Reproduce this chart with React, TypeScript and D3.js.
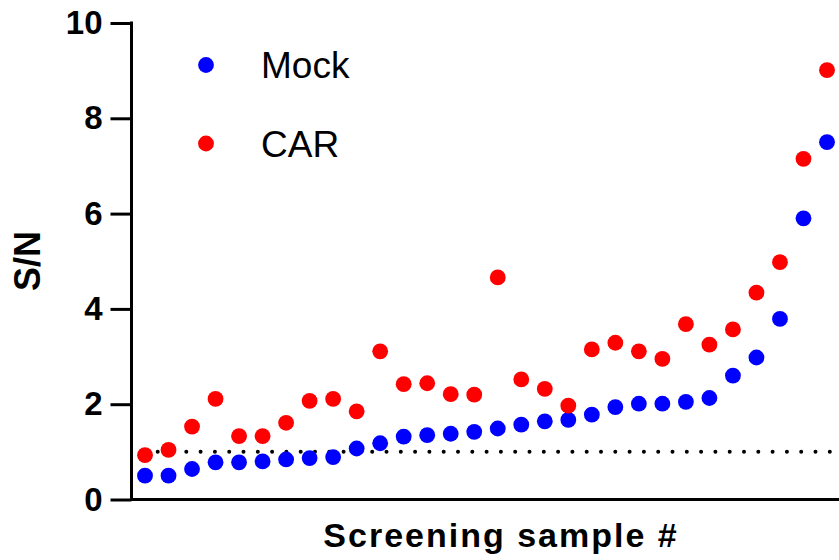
import React, { useRef, useEffect } from "react";
import { select, scaleLinear, axisLeft } from "d3";

// sample index 1..30, sorted by mock value
const samples = Array.from({ length: 30 }, (_, i) => i + 1);

const mockValues = [
  0.5, 0.5, 0.64, 0.78, 0.78, 0.8, 0.84, 0.87, 0.89, 1.07, 1.18, 1.32, 1.35,
  1.38, 1.42, 1.49, 1.57, 1.64, 1.67, 1.78, 1.94, 2.01, 2.01, 2.05, 2.13, 2.6,
  2.98, 3.79, 5.9, 7.5,
];

const carValues = [
  0.93, 1.04, 1.53, 2.11, 1.33, 1.33, 1.61, 2.07, 2.11, 1.85, 3.11, 2.42, 2.44,
  2.21, 2.2, 4.66, 2.52, 2.32, 1.97, 3.15, 3.29, 3.11, 2.95, 3.68, 3.25, 3.57,
  4.34, 4.98, 7.15, 9.01,
];

const yTicks = [0, 2, 4, 6, 8, 10];
const threshold = 1;

const series = [
  { name: "Mock", color: "#0000ff", values: mockValues },
  { name: "CAR", color: "#ff0000", values: carValues },
];

const FONT = "'Liberation Sans', Arial, sans-serif";

const App = () => {
  const svgRef = useRef(null);

  useEffect(() => {
    const svg = select(svgRef.current);
    svg.selectAll("*").remove();

    const axisX = 131.5;
    const xScale = scaleLinear().domain([1, 30]).range([145, 827]);
    const yScale = scaleLinear().domain([0, 10]).range([499.5, 23]);

    // y axis
    const yAxis = axisLeft(yScale).tickValues(yTicks).tickSize(21).tickPadding(8);
    const gy = svg
      .append("g")
      .attr("transform", `translate(${axisX},0)`)
      .call(yAxis);
    gy.select(".domain").remove();
    gy.selectAll("line").attr("stroke", "#000").attr("stroke-width", 3);
    gy.selectAll("text")
      .attr("font-family", FONT)
      .attr("font-weight", "bold")
      .attr("font-size", 33)
      .attr("fill", "#000");

    // axis lines
    svg
      .append("line")
      .attr("x1", axisX)
      .attr("x2", axisX)
      .attr("y1", yScale(10) - 1.5)
      .attr("y2", yScale(0) + 1.5)
      .attr("stroke", "#000")
      .attr("stroke-width", 3);
    svg
      .append("line")
      .attr("x1", axisX - 1.5)
      .attr("x2", 839)
      .attr("y1", yScale(0))
      .attr("y2", yScale(0))
      .attr("stroke", "#000")
      .attr("stroke-width", 3);

    // dotted threshold line at S/N = 1
    svg
      .append("line")
      .attr("x1", 143.4)
      .attr("x2", 839)
      .attr("y1", yScale(threshold))
      .attr("y2", yScale(threshold))
      .attr("stroke", "#000")
      .attr("stroke-width", 4)
      .attr("stroke-linecap", "round")
      .attr("stroke-dasharray", "0 14.3");

    // points
    series.forEach((s) => {
      svg
        .append("g")
        .selectAll("circle")
        .data(s.values)
        .join("circle")
        .attr("cx", (d, i) => xScale(samples[i]))
        .attr("cy", (d) => yScale(d))
        .attr("r", 7.9)
        .attr("fill", s.color);
    });

    // legend
    const legend = svg.append("g");
    series.forEach((s, i) => {
      const y = 65 + i * 78.5;
      legend
        .append("circle")
        .attr("cx", 206)
        .attr("cy", y)
        .attr("r", 7.9)
        .attr("fill", s.color);
      legend
        .append("text")
        .attr("x", 261)
        .attr("y", y + 13)
        .attr("font-family", FONT)
        .attr("font-size", 37)
        .attr("fill", "#000")
        .text(s.name);
    });

    // axis titles
    svg
      .append("text")
      .attr("transform", "translate(40,261) rotate(-90)")
      .attr("text-anchor", "middle")
      .attr("font-family", FONT)
      .attr("font-weight", "bold")
      .attr("font-size", 36)
      .attr("fill", "#000")
      .text("S/N");
    svg
      .append("text")
      .attr("x", 501)
      .attr("y", 547)
      .attr("text-anchor", "middle")
      .attr("font-family", FONT)
      .attr("font-weight", "bold")
      .attr("font-size", 34)
      .attr("letter-spacing", 2)
      .attr("fill", "#000")
      .text("Screening sample #");
  }, []);

  return (
    <svg
      ref={svgRef}
      width={839}
      height={560}
      style={{ position: "absolute", left: 0, top: 0, background: "#fff" }}
    />
  );
};

export default App;
